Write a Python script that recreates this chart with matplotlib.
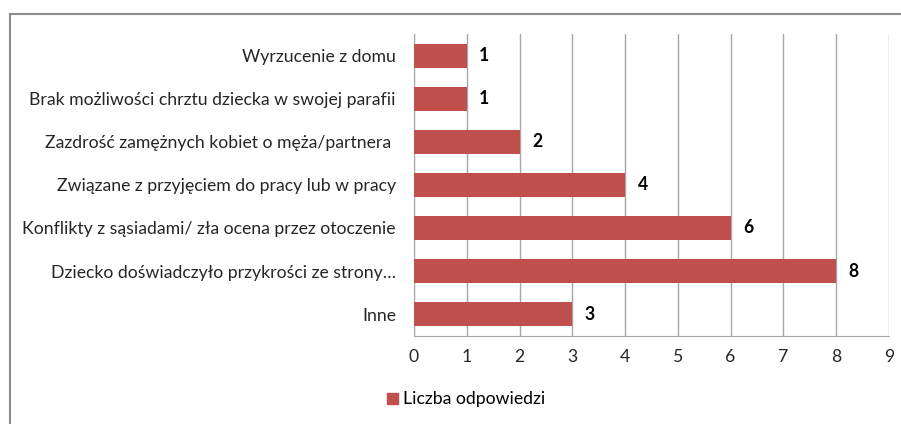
import matplotlib
matplotlib.use('Agg')
from matplotlib import pyplot as plt
from matplotlib.lines import Line2D
from matplotlib.patches import Patch

# data (top to bottom as in the chart)
categories = ['Wyrzucenie z domu',
              'Brak możliwości chrztu dziecka w swojej parafii',
              'Zazdrość zamężnych kobiet o męża/partnera ',
              'Związane z przyjęciem do pracy lub w pracy',
              'Konflikty z sąsiadami/ zła ocena przez otoczenie',
              'Dziecko doświadczyło przykrości ze strony…',
              'Inne']
values = [1, 1, 2, 4, 6, 8, 3]
series_name = 'Liczba odpowiedzi'
xticks = [0, 1, 2, 3, 4, 5, 6, 7, 8, 9]

bar_color = '#C0504D'
grid_color = '#A6A6A6'
text_color = '#262626'
fs = 12.7

plt.rcParams['font.family'] = ['Lato', 'DejaVu Sans']

fig = plt.figure(figsize=(9.01, 4.24), dpi=100)
ax = fig.add_axes([0.4595, 0.2087, 0.527, 0.71])

ypos = list(range(len(categories)))[::-1]
ax.barh(ypos, values, height=0.56, color=bar_color, zorder=3)
ax.set_ylim(-0.5, len(categories) - 0.5)
ax.set_xlim(0, 9)
ax.set_xticks(xticks)
ax.set_xticklabels([str(t) for t in xticks])
ax.set_yticks(ypos)
ax.set_yticklabels(categories)

ax.grid(axis='x', color=grid_color, linewidth=1, zorder=0)
ax.tick_params(axis='both', length=0, labelsize=fs, colors=text_color)
ax.tick_params(axis='y', pad=13)
ax.tick_params(axis='x', pad=10)
for s in ['top', 'right']:
    ax.spines[s].set_visible(False)
for s in ['left', 'bottom']:
    ax.spines[s].set_color(grid_color)

for y, v in zip(ypos, values):
    ax.annotate(str(v), (v, y), xytext=(9, 0), textcoords='offset points',
                va='center', ha='left', fontsize=fs, fontweight='bold', color='black')

# legend
fig.legend(handles=[Patch(color=bar_color, label=series_name)], loc='center left',
           bbox_to_anchor=(0.412, 0.058), frameon=False, fontsize=fs,
           handlelength=0.6, handleheight=0.6, handletextpad=0.3)

# outer chart border
fig.add_artist(Line2D([0.0111, 0.0111], [0.0, 0.967], color='#8C8C8C', linewidth=1.5))
fig.add_artist(Line2D([0.0111, 1.0], [0.967, 0.967], color='#8C8C8C', linewidth=1.5))

fig.savefig('out.png', dpi=100)
